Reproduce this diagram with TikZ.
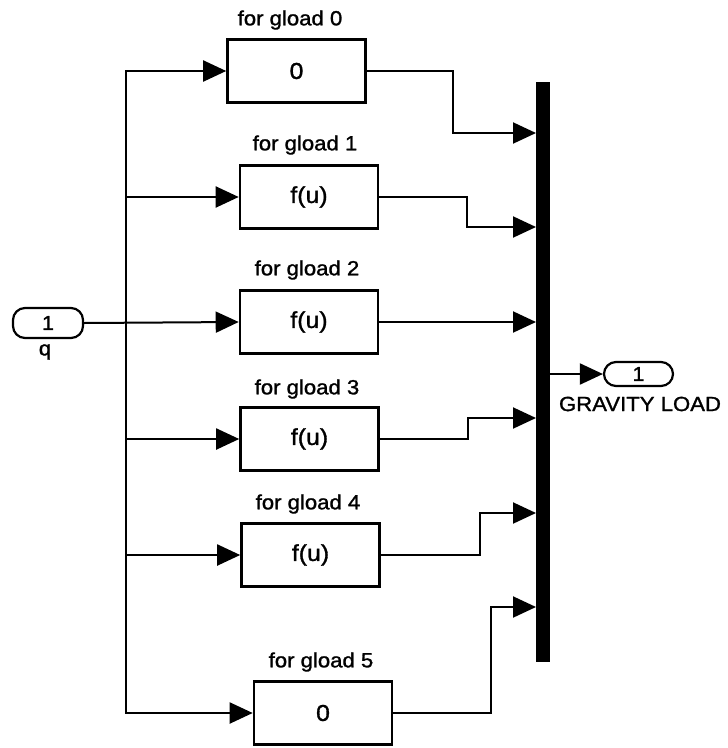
\documentclass[tikz,border=0pt]{standalone}
\usepackage{fontspec}
\setmainfont[FakeStretch=1.08,FakeBold=1.3]{Liberation Sans}
\usetikzlibrary{arrows.meta}
\begin{document}
\begin{tikzpicture}[x=1pt,y=-1pt,
  blk/.style={draw=black,line width=2.6pt,minimum width=138pt,minimum height=63pt,inner sep=0pt,font=\fontsize{23}{26}\selectfont},
  port/.style={draw=black,line width=2.2pt,rounded corners=12pt,inner sep=0pt,font=\fontsize{20}{22}\selectfont},
  lbl/.style={inner sep=0pt,font=\fontsize{20.5}{23}\selectfont},
  conn/.style={line width=2pt},
  arr/.style={conn,-{Triangle[length=23pt,width=21pt]}}]
\useasboundingbox (0,0) rectangle (728,748);

% blocks
\node[blk] (b0) at (296.5,71) {0};
\node[blk] (b1) at (309,197) {f(u)};
\node[blk] (b2) at (309,322) {f(u)};
\node[blk] (b3) at (309.5,439) {f(u)};
\node[blk] (b4) at (310.5,555) {f(u)};
\node[blk] (b5) at (323,713) {0};

% labels
\node[lbl] (l0) at (290,20) {for gload 0};
\node[lbl] (l1) at (305,145) {for gload 1};
\node[lbl] (l2) at (307,270) {for gload 2};
\node[lbl] (l3) at (307,389) {for gload 3};
\node[lbl] (l4) at (308,504) {for gload 4};
\node[lbl] (l5) at (321,662) {for gload 5};

% bus
\node[fill=black,draw=none,minimum width=14pt,minimum height=580pt,inner sep=0pt] (bus) at (543,372) {};

% ports
\node[port,minimum width=70pt,minimum height=30pt] (inp) at (48,323) {1};
\node[lbl] (q) at (45,352) {q};
\node[port,minimum width=69pt,minimum height=24pt] (out) at (638.5,374) {1};
\node[lbl] (gl) at (640,404) {GRAVITY LOAD};

% input distribution
\coordinate (j) at (126,322);
\draw[arr] (inp.east) -- (b2.west);
\draw[arr] (j) |- (b0.west);
\draw[arr] (j) |- (b1.west);
\draw[arr] (j) |- (b3.west);
\draw[arr] (j) |- (b4.west);
\draw[arr] (j) |- (b5.west);

% bus inputs
\coordinate (i0) at (536,133);
\coordinate (i1) at (536,227);
\coordinate (i2) at (536,322);
\coordinate (i3) at (536,418);
\coordinate (i4) at (536,513);
\coordinate (i5) at (536,607);
\draw[arr] (b0.east) -| (453,133) -- (i0);
\draw[arr] (b1.east) -| (467,227) -- (i1);
\draw[arr] (b2.east) -- (i2);
\draw[arr] (b3.east) -| (468,418) -- (i3);
\draw[arr] (b4.east) -| (480,513) -- (i4);
\draw[arr] (b5.east) -| (491,607) -- (i5);

% output
\draw[arr] (bus.east |- out.west) -- (out.west);
\end{tikzpicture}
\end{document}
